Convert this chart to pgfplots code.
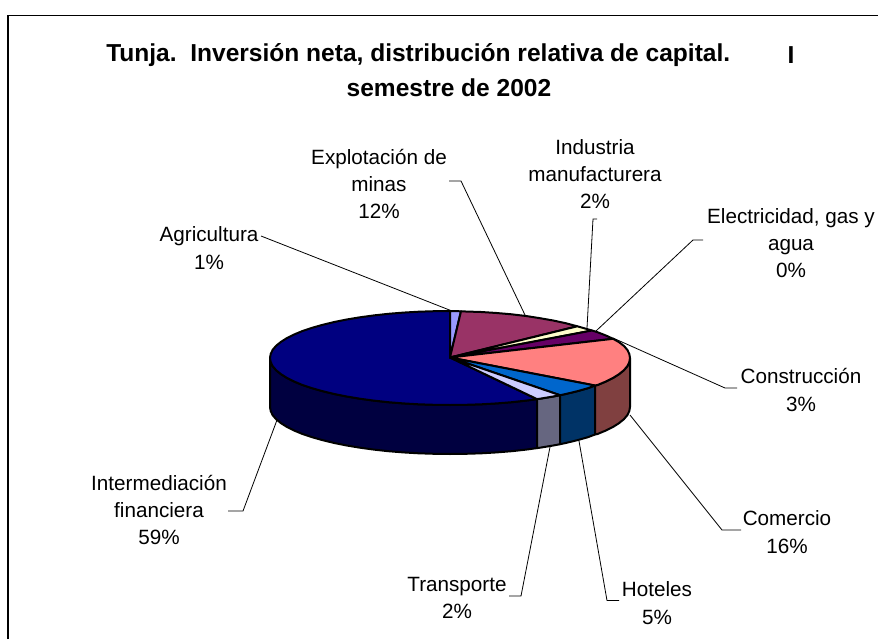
\documentclass[border=0pt]{standalone}
\usepackage{fontspec}
\setmainfont{Liberation Sans}
\usepackage{pgfplots}
\pgfplotsset{compat=1.18}
\definecolor{agri}{HTML}{9999FF}
\definecolor{minas}{HTML}{993366}
\definecolor{indus}{HTML}{FFFFCC}
\definecolor{constr}{HTML}{660066}
\definecolor{comer}{HTML}{FF8080}
\definecolor{comerd}{HTML}{804040}
\definecolor{hotel}{HTML}{0066CC}
\definecolor{hoteld}{HTML}{003366}
\definecolor{transp}{HTML}{CCCCFF}
\definecolor{transpd}{HTML}{666680}
\definecolor{finan}{HTML}{000080}
\definecolor{finand}{HTML}{000040}
\begin{document}
\begin{tikzpicture}[
    lbl/.style={font=\fontsize{15.5}{20.5}\selectfont, align=center, inner sep=0pt},
    ttl/.style={font=\fontsize{18.4}{24.5}\selectfont\bfseries, inner sep=0pt},
    slice/.style={draw=black, line width=1.5pt, line join=round},
    leader/.style={draw=black, line width=0.6pt},
]
\useasboundingbox (0,0) rectangle (658.5pt,479.25pt);
\begin{axis}[
    at={(0,0)}, anchor=south west,
    scale only axis,
    width=658.5pt, height=479.25pt,
    xmin=0, xmax=878, ymin=0, ymax=639,
    y dir=reverse,
    hide axis,
    clip=false,
]
% frame
\addplot[draw=black, line width=0.8pt] coordinates {(8,639) (8,15.5) (878,15.5)};

% sides of the pie
\addplot[slice, fill=finand] coordinates {(537,399.1) (526.1,400.6) (511.6,402.2) (496.6,403.4) (481.3,404.3) (465.7,404.8) (450,405) (434.3,404.8) (418.7,404.3) (403.4,403.4) (388.4,402.2) (373.9,400.6) (360,398.7) (346.8,396.5) (334.3,394) (322.7,391.2) (312.1,388.2) (302.5,385) (294.1,381.5) (286.9,377.9) (280.9,374.1) (276.1,370.2) (272.7,366.2) (270.7,362.1) (270,358)
  (270,407) (270.7,411.1) (272.7,415.2) (276.1,419.2) (280.9,423.1) (286.9,426.9) (294.1,430.5) (302.5,434) (312.1,437.2) (322.7,440.2) (334.3,443) (346.8,445.5) (360,447.7) (373.9,449.6) (388.4,451.2) (403.4,452.4) (418.7,453.3) (434.3,453.8) (450,454) (465.7,453.8) (481.3,453.3) (496.6,452.4) (511.6,451.2) (526.1,449.6) (537,448.1)} --cycle;
\addplot[slice, fill=transpd] coordinates {(537,399.1) (540,398.7) (553.2,396.5) (560,395.2) (560,444.2) (553.2,445.5) (540,447.7) (537,448.1)} --cycle;
\addplot[slice, fill=hoteld] coordinates {(560,395.2) (565.7,394) (577.3,391.2) (587.9,388.2) (595,385.5) (595,434.5) (587.9,437.2) (577.3,440.2) (565.7,443) (560,444.2)} --cycle;
\addplot[slice, fill=comerd] coordinates {(595,385.5) (597.5,385) (605.9,381.5) (613.1,377.9) (619.1,374.1) (623.9,370.2) (627.3,366.2) (629.3,362.1) (630,358) (630,407) (629.3,411.1) (627.3,415.2) (623.9,419.2) (619.1,423.1) (613.1,426.9) (605.9,430.5) (597.5,434) (595,434.5)} --cycle;

% top of the pie
\addplot[slice, fill=finan] coordinates {(450,357.5) (537,399.1) (526.1,400.6) (511.6,402.2) (496.6,403.4) (481.3,404.3) (465.7,404.8) (450,405) (434.3,404.8) (418.7,404.3) (403.4,403.4) (388.4,402.2) (373.9,400.6) (360,398.7) (346.8,396.5) (334.3,394) (322.7,391.2) (312.1,388.2) (302.5,385) (294.1,381.5) (286.9,377.9) (280.9,374.1) (276.1,370.2) (272.7,366.2) (270.7,362.1) (270,358) (270.7,353.9) (272.7,349.8) (276.1,345.8) (280.9,341.9) (286.9,338.1) (294.1,334.5) (302.5,331) (312.1,327.8) (322.7,324.8) (334.3,322) (346.8,319.5) (360,317.3) (373.9,315.4) (388.4,313.8) (403.4,312.6) (418.7,311.7) (434.3,311.2) (450,311)} --cycle;
\addplot[slice, fill=agri] coordinates {(450,357.5) (450,311) (461,311.3)} --cycle;
\addplot[slice, fill=minas] coordinates {(450,357.5) (461,311.3) (465.7,311.5) (481.3,312) (496.6,313) (511.6,314.3) (526.1,316) (540,318.2) (553.2,320.5) (565.7,323.2) (577.3,326.3)} --cycle;
\addplot[slice, fill=indus] coordinates {(450,357.5) (577.3,326.3) (587.9,329.3) (592,330.5)} --cycle;
\addplot[slice, fill=constr] coordinates {(450,357.5) (592,330.5) (597.5,332.2) (605.9,335.5) (613.1,338.8)} --cycle;
\addplot[slice, fill=comer] coordinates {(450,357.5) (613.1,338.8) (619.1,342.2) (623.9,345.9) (627.3,349.8) (629.3,353.9) (630,358) (629.3,362.1) (627.3,366.2) (623.9,370.2) (619.1,374.1) (613.1,377.9) (605.9,381.5) (597.5,385) (595,385.5)} --cycle;
\addplot[slice, fill=hotel] coordinates {(450,357.5) (595,385.5) (587.9,388.2) (577.3,391.2) (565.7,394) (560,395.2)} --cycle;
\addplot[slice, fill=transp] coordinates {(450,357.5) (560,395.2) (553.2,396.5) (540,398.7) (537,399.1)} --cycle;

% leader lines
\addplot[leader] coordinates {(261,236) (452,311)};
\addplot[leader] coordinates {(449,181) (461,181) (525,315)};
\addplot[leader] coordinates {(597,219) (593,219) (587,328)};
\addplot[leader] coordinates {(703,240) (693,240) (596,331)};
\addplot[leader] coordinates {(737,388) (725,388) (613,338)};
\addplot[leader] coordinates {(741,530) (722,530) (630,415)};
\addplot[leader] coordinates {(619,600.5) (607,600.5) (579,441)};
\addplot[leader] coordinates {(509,596) (521,596) (550,447)};
\addplot[leader] coordinates {(228,511) (243,511) (277,420)};

% title
\node[ttl, anchor=west] at (axis cs:106,55) {Tunja.\ \ Inversión neta, distribución relativa de capital.};
\node[ttl] at (axis cs:791,55) {I};
\node[ttl] at (axis cs:449,88) {semestre de 2002};

% labels
\node[lbl] at (axis cs:209,248) {Agricultura\\1\%};
\node[lbl] at (axis cs:379,184) {Explotación de\\minas\\12\%};
\node[lbl] at (axis cs:595,174) {Industria\\manufacturera\\2\%};
\node[lbl] at (axis cs:791,243) {Electricidad, gas y\\agua\\0\%};
\node[lbl] at (axis cs:801,390) {Construcción\\3\%};
\node[lbl] at (axis cs:787,532) {Comercio\\16\%};
\node[lbl] at (axis cs:657,603) {Hoteles\\5\%};
\node[lbl] at (axis cs:457,598) {Transporte\\2\%};
\node[lbl] at (axis cs:159,510) {Intermediación\\financiera\\59\%};
\end{axis}
\end{tikzpicture}
\end{document}
